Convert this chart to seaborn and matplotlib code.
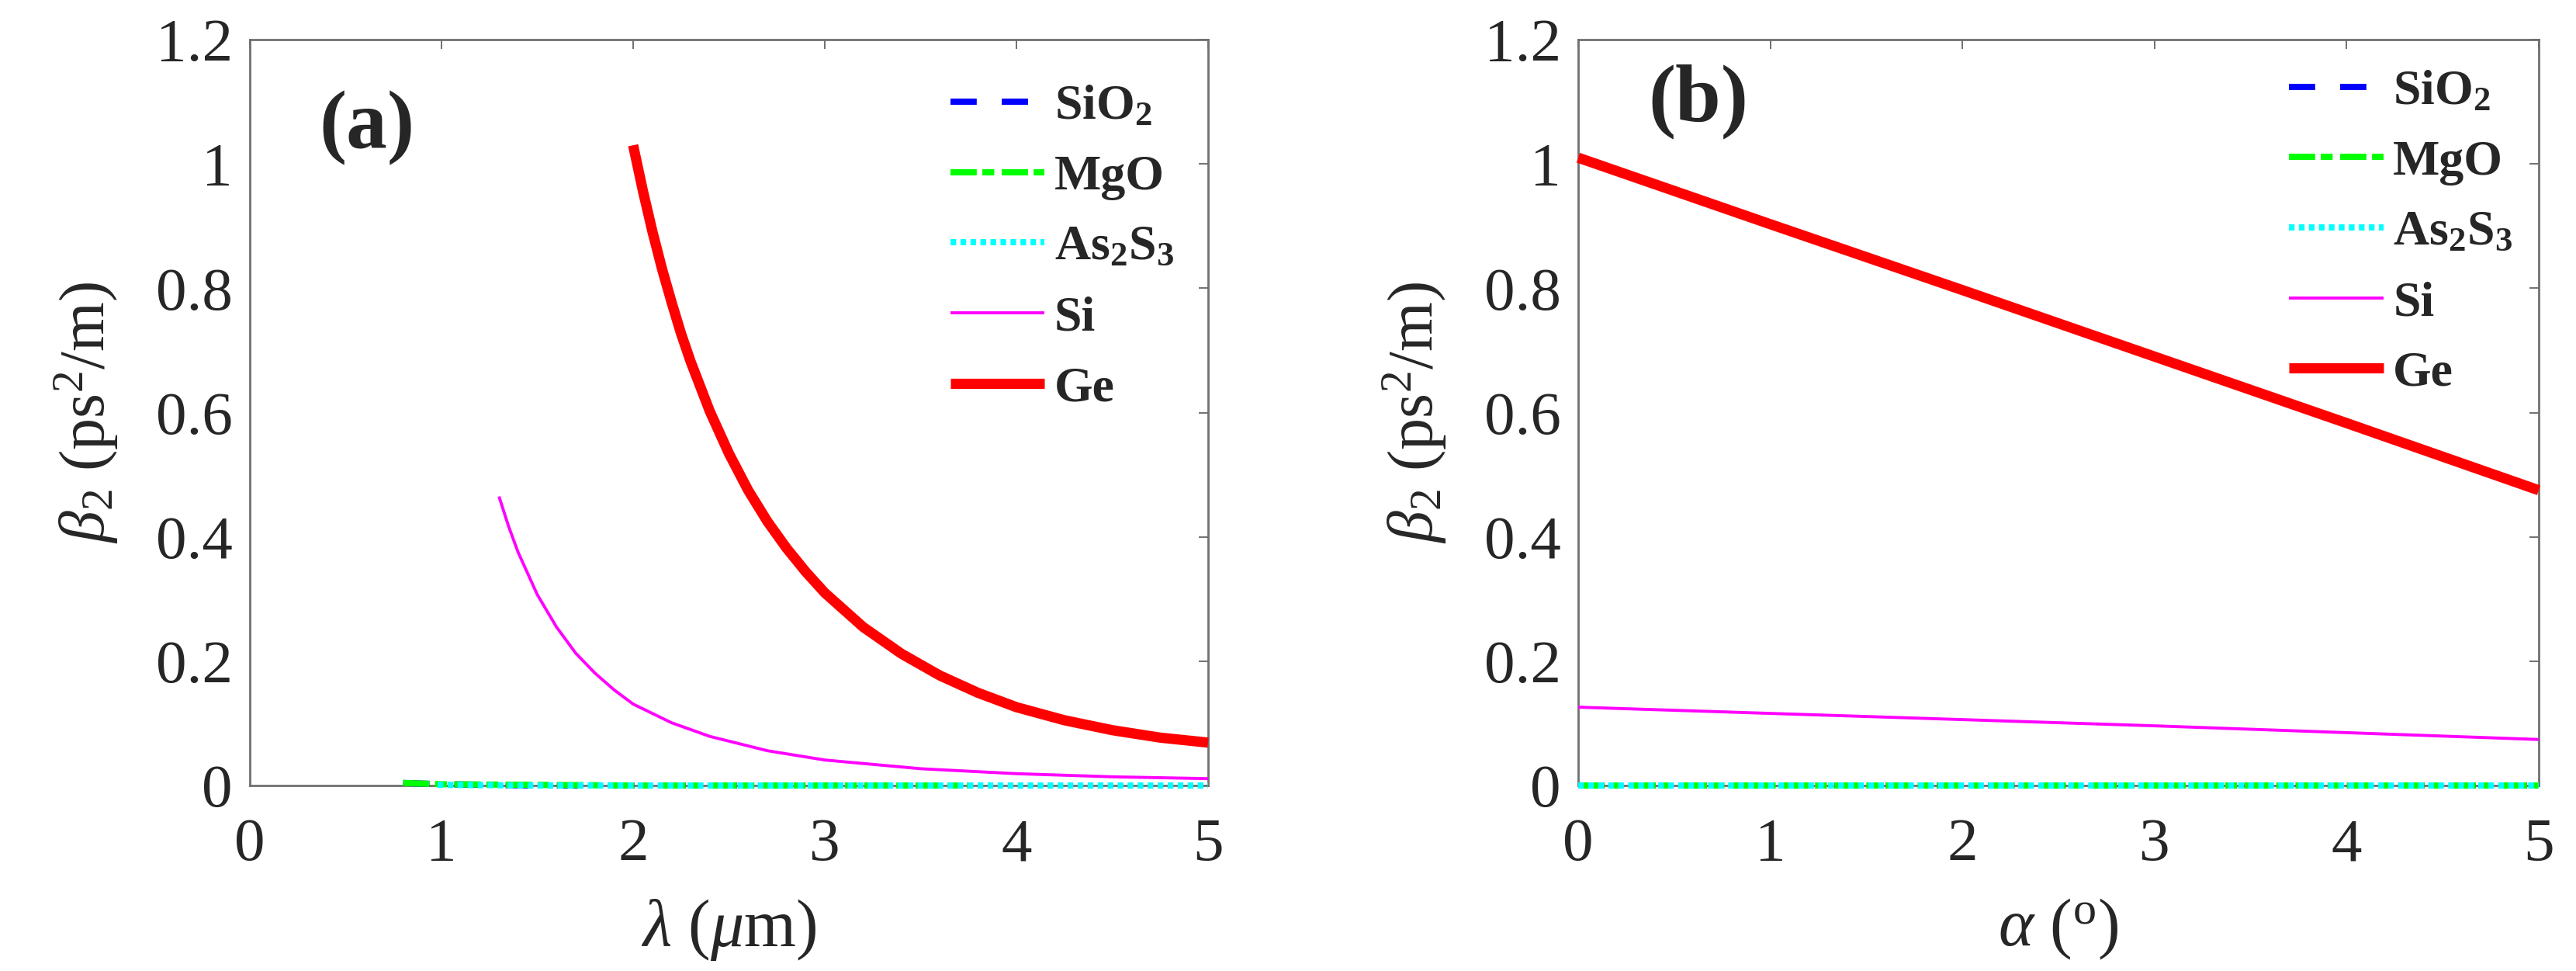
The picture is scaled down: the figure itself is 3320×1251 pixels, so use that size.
import matplotlib
matplotlib.use("Agg")
import pandas as pd
import seaborn as sns
from matplotlib import pyplot as plt

# ---- panel (a): beta2 vs wavelength ----
lam_ge = [2.0, 2.05, 2.1, 2.15, 2.2, 2.25, 2.3, 2.4, 2.5, 2.6, 2.7, 2.8, 2.9,
          3.0, 3.2, 3.4, 3.6, 3.8, 4.0, 4.25, 4.5, 4.75, 5.0]
b2_ge = [1.03, 0.958, 0.892, 0.832, 0.778, 0.727, 0.682, 0.602, 0.534, 0.475,
         0.425, 0.382, 0.344, 0.31, 0.255, 0.212, 0.177, 0.149, 0.126, 0.105,
         0.089, 0.077, 0.069]

lam_si = [1.3, 1.35, 1.4, 1.5, 1.6, 1.7, 1.8, 1.9, 2.0, 2.2, 2.4, 2.7, 3.0,
          3.5, 4.0, 4.5, 5.0]
b2_si = [0.465, 0.417, 0.375, 0.307, 0.255, 0.213, 0.181, 0.154, 0.131, 0.101,
         0.079, 0.056, 0.041, 0.027, 0.019, 0.014, 0.011]

lam_sio2 = [0.8, 1.0, 1.5, 2.0, 2.5, 3.0, 3.5]
b2_sio2 = [0.004, 0.002, 0.0, 0.0, 0.0, 0.0, 0.0]

lam_mgo = [0.8, 0.9, 1.0, 1.5, 2.0, 2.5, 3.0, 3.5, 3.75]
b2_mgo = [0.004, 0.003, 0.002, 0.001, 0.0, 0.0, 0.0, 0.0, 0.0]

lam_as2s3 = [0.98, 1.5, 2.0, 2.5, 3.0, 3.5, 4.0, 4.5, 5.0]
b2_as2s3 = [0.001, 0.0, 0.0, 0.0, 0.0, 0.0, 0.0, 0.0, 0.0]

# ---- panel (b): beta2 vs angle ----
alpha = [0, 1, 2, 3, 4, 5]
b2_ge_a = [1.01, 0.903, 0.797, 0.690, 0.583, 0.475]
b2_si_a = [0.126, 0.116, 0.106, 0.096, 0.085, 0.074]
b2_sio2_a = [0.0, 0.0, 0.0, 0.0, 0.0, 0.0]
b2_mgo_a = [0.0, 0.0, 0.0, 0.0, 0.0, 0.0]
b2_as2s3_a = [0.0, 0.0, 0.0, 0.0, 0.0, 0.0]

x_ticks = [0, 1, 2, 3, 4, 5]
y_ticks = [0, 0.2, 0.4, 0.6, 0.8, 1.0, 1.2]
y_ticklabels = ["0", "0.2", "0.4", "0.6", "0.8", "1", "1.2"]

names = [r"SiO$_\mathbf{2}$", "MgO", r"As$_\mathbf{2}$S$_\mathbf{3}$", "Si", "Ge"]

sns.set_style("white")
plt.rcParams["font.family"] = ["Liberation Serif", "DejaVu Serif"]
plt.rcParams["mathtext.fontset"] = "custom"
plt.rcParams["mathtext.rm"] = "Liberation Serif"
plt.rcParams["mathtext.it"] = "Liberation Serif:italic"
plt.rcParams["mathtext.bf"] = "Liberation Serif:bold"

# colour, linewidth (pt), dash pattern in linewidth units (None = solid)
styles = [
    ("#0000ff", 5.8, (4.2, 4.0)),
    ("#00ff00", 5.8, (4.2, 0.9, 1.9, 1.2)),
    ("#00ffff", 5.8, (0.9, 0.7)),
    ("#ff00ff", 2.8, None),
    ("#ff0000", 9.5, None),
]

GRAY = "#707070"


def draw_panel(ax, series, tag, tag_xy, leg_xy, xlabel):
    for (x, y), name, (col, lw, dash) in zip(series, names, styles):
        df = pd.DataFrame({"x": x, "y": y})
        sns.lineplot(data=df, x="x", y="y", ax=ax, color=col, linewidth=lw,
                     label=name, solid_capstyle="butt", clip_on=False,
                     zorder=3)
        line = ax.get_lines()[-1]
        if dash is not None:
            line.set_dashes(dash)

    ax.set_xlim(0, 5)
    ax.set_ylim(0, 1.2)
    ax.set_xticks(x_ticks)
    ax.set_xticklabels([str(t) for t in x_ticks])
    ax.set_yticks(y_ticks)
    ax.set_yticklabels(y_ticklabels)
    ax.tick_params(direction="in", length=8.6, width=1.4, color=GRAY,
                   labelsize=57, top=True, right=True)
    ax.tick_params(axis="x", pad=30)
    ax.tick_params(axis="y", pad=16)
    for sp in ax.spines.values():
        sp.set_color(GRAY)
        sp.set_linewidth(2)
        sp.set_visible(True)

    ax.set_xlabel(xlabel, fontsize=62)
    ax.set_ylabel(r"$\beta_2$ (ps$^2$/m)", fontsize=59)
    ax.xaxis.set_label_coords(0.5, -0.15)
    ax.yaxis.set_label_coords(-0.135, 0.5)

    ax.text(tag_xy[0], tag_xy[1], tag, transform=ax.transAxes, fontsize=76,
            fontweight="bold", ha="center", va="center")

    ax.legend(loc="upper left", bbox_to_anchor=leg_xy, frameon=False,
              prop={"size": 46, "weight": "bold"}, handlelength=1.9,
              handletextpad=0.2, labelspacing=0.5, borderpad=0,
              borderaxespad=0)


fig = plt.figure(figsize=(33.2, 12.51), dpi=100)
ax1 = fig.add_axes([322 / 3320, 1 - 1012 / 1251, 1235 / 3320, 961 / 1251])
ax2 = fig.add_axes([2034 / 3320, 1 - 1012 / 1251, 1238 / 3320, 961 / 1251])

draw_panel(
    ax1,
    [(lam_sio2, b2_sio2), (lam_mgo, b2_mgo), (lam_as2s3, b2_as2s3),
     (lam_si, b2_si), (lam_ge, b2_ge)],
    "(a)", (0.122, 0.881), (0.731, 0.94), r"$\lambda$ ($\mu$m)",
)
draw_panel(
    ax2,
    [(alpha, b2_sio2_a), (alpha, b2_mgo_a), (alpha, b2_as2s3_a),
     (alpha, b2_si_a), (alpha, b2_ge_a)],
    "(b)", (0.125, 0.917), (0.74, 0.96), r"$\alpha$ ($^{\mathrm{o}}$)",
)

fig.savefig("out.png", dpi=100, facecolor="white")
